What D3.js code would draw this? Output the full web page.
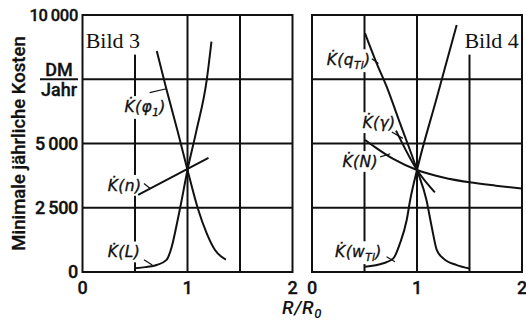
<!DOCTYPE html>
<html><head><meta charset="utf-8">
<script src="https://cdn.jsdelivr.net/npm/d3@7"></script>
<style>body{margin:0;background:#fff}svg{display:block}</style>
</head><body>
<svg id="c" width="526" height="321"></svg>
<script>
// ---------- data ----------
const xTickValues = [0, 1, 2];
const xGridValues = [0.5, 1, 1.5];
const yGridValues = [2500, 5000, 7500];
const yTickValues = [0, 2500, 5000, 10000];
const yTickLabels = ["0", "2\u2009500", "5\u2009000", "10\u2009000"];
const yUnitValue = 7500;
const yUnitTop = "DM", yUnitBottom = "Jahr";
const yTitle = "Minimale jährliche Kosten";
const panelTitles = ["Bild 3", "Bild 4"];

// Bild 3
const kPhi_x = [0.707, 0.80, 0.903, 1.0, 1.10, 1.183, 1.262, 1.365];
const kPhi_y = [8600, 7100, 5525, 3970, 2450, 1505, 856, 480];
const kL_x = [0.5, 0.6, 0.707, 0.80, 0.85, 0.90, 0.935, 1.0, 1.085, 1.183, 1.228];
const kL_y = [150, 190, 272, 470, 985, 1900, 2600, 3970, 5500, 7470, 8960];
const kn_x = [0.53, 1.20];
const kn_y = [3000, 4440];

// Bild 4
const kq_x = [0.505, 0.616, 0.711, 0.838, 1.0, 1.09, 1.14, 1.188, 1.25, 1.378, 1.5];
const kq_y = [9290, 8120, 7210, 5790, 3970, 2800, 1760, 860, 530, 270, 140];
const kg_x = [0.80, 1.0, 1.17];
const kg_y = [5500, 3970, 3100];
const kN_x = [0.505, 0.60, 0.774, 1.0, 1.25, 1.5, 1.75, 1.997];
const kN_y = [5140, 4860, 4400, 3970, 3680, 3490, 3360, 3250];
const kw_x = [0.505, 0.68, 0.775, 0.838, 0.902, 0.935, 1.0, 1.187, 1.378];
const kw_y = [207, 340, 530, 1117, 2023, 2800, 3970, 6760, 9610];

// curve labels: [main, subscript, after]
const labels3 = [
  {parts:["K\u0307(φ","1",")"], x:0.40, y:6230, lx:[0.80,0.64], ly:[7130,6980]},
  {parts:["K\u0307(n)","",""],  x:0.24, y:3160, lx:[0.585,0.645], ly:[3440,3250]},
  {parts:["K\u0307(L)","",""],  x:0.24, y:570,  lx:[0.585,0.665], ly:[480,270]}
];
const labels4 = [
  {parts:["K\u0307(q","Ti",")"], x:0.14, y:8050, lx:[0.57,0.633], ly:[8300,8110]},
  {parts:["K\u0307(γ)","",""],  x:0.48, y:5600, lx:[0.76,0.865], ly:[5450,5200]},
  {parts:["K\u0307(N)","",""],  x:0.29, y:4090, lx:[0.65,0.745], ly:[4480,4600]},
  {parts:["K\u0307(w","Ti",")"], x:0.22, y:580,  lx:[0.71,0.79], ly:[590,400]}
];

// ---------- layout ----------
const svg = d3.select("#c");
const yS = d3.scaleLinear().domain([0, 10000]).range([272, 15]);
const panels = [
  {x0: 82.5, x1: 292.5, title: panelTitles[0], titleX: 0.03, titleAnchor: "start",
   series: [[kPhi_x,kPhi_y,d3.curveMonotoneX],[kL_x,kL_y,d3.curveMonotoneX],[kn_x,kn_y,d3.curveLinear]], labels: labels3},
  {x0: 312, x1: 522, title: panelTitles[1], titleX: 1.97, titleAnchor: "end",
   series: [[kq_x,kq_y,d3.curveMonotoneX],[kg_x,kg_y,d3.curveMonotoneX],[kN_x,kN_y,d3.curveMonotoneX],[kw_x,kw_y,d3.curveMonotoneX]], labels: labels4}
];
const lw = 2;
const tickFont = "Roboto, 'Liberation Sans', sans-serif";

panels.forEach((p, pi) => {
  const xS = d3.scaleLinear().domain([0, 2]).range([p.x0, p.x1]);
  const g = svg.append("g");
  const gGrid = g.append("g"), gBox = g.append("g"), gFrame = g.append("g"),
        gCurve = g.append("g"), gText = g.append("g");

  gGrid.selectAll(".vx").data(xGridValues).join("line")
    .attr("x1", d => xS(d)).attr("x2", d => xS(d))
    .attr("y1", yS(10000)).attr("y2", yS(0))
    .attr("stroke", "#111").attr("stroke-width", lw);
  gGrid.selectAll(".hy").data(yGridValues).join("line")
    .attr("x1", xS(0)).attr("x2", xS(2))
    .attr("y1", d => yS(d)).attr("y2", d => yS(d))
    .attr("stroke", "#111").attr("stroke-width", lw);

  gFrame.append("rect").attr("x", xS(0)).attr("y", yS(10000))
    .attr("width", xS(2) - xS(0)).attr("height", yS(0) - yS(10000))
    .attr("fill", "none").attr("stroke", "#111").attr("stroke-width", lw);

  p.series.forEach(([xs, ys, cv]) => {
    const pts = xs.map((x, i) => [x, ys[i]]);
    gCurve.append("path")
      .attr("d", d3.line().x(d => xS(d[0])).y(d => yS(d[1])).curve(cv)(pts))
      .attr("fill", "none").attr("stroke", "#111").attr("stroke-width", 2)
      .attr("stroke-linejoin", "round");
  });

  const tt = gText.append("text").attr("x", xS(p.titleX)).attr("y", yS(8730))
    .attr("text-anchor", p.titleAnchor)
    .attr("font-family", "'Liberation Serif', 'Times New Roman', serif")
    .attr("font-size", 22).attr("fill", "#111").text(p.title);
  const tb = tt.node().getBBox();
  gBox.append("rect").attr("x", tb.x - 2).attr("y", yS(10000)).attr("width", tb.width + 4)
    .attr("height", tb.y + tb.height + 2 - yS(10000)).attr("fill", "#fff");

  p.labels.forEach(l => {
    const t = gText.append("text").attr("x", xS(l.x)).attr("y", yS(l.y))
      .attr("font-family", "'DejaVu Sans', sans-serif").attr("font-style", "italic")
      .attr("font-size", 15.5).attr("letter-spacing", 0.4)
      .attr("stroke", "#111").attr("stroke-width", 0.35).attr("fill", "#111");
    t.append("tspan").text(l.parts[0]);
    if (l.parts[1]) {
      t.append("tspan").attr("font-size", 10.5).attr("dy", 4).text(l.parts[1]);
      t.append("tspan").attr("dy", -4).text(l.parts[2]);
    }
    const b = t.node().getBBox();
    gBox.append("rect").attr("x", b.x - 1).attr("y", b.y - 1)
      .attr("width", b.width + 2).attr("height", b.height + 2).attr("fill", "#fff");
    gCurve.append("line")
      .attr("x1", xS(l.lx[0])).attr("y1", yS(l.ly[0]))
      .attr("x2", xS(l.lx[1])).attr("y2", yS(l.ly[1]))
      .attr("stroke", "#111").attr("stroke-width", 1.2);
  });

  g.selectAll(".xt").data(xTickValues).join("text")
    .attr("x", d => xS(d)).attr("y", 294).attr("text-anchor", "middle")
    .attr("font-family", tickFont).attr("font-weight", 500)
    .attr("stroke", "#111").attr("stroke-width", 0.3)
    .attr("font-size", 18).attr("fill", "#111").text(d => d);

  if (pi === 0) {
    svg.selectAll(".yt").data(yTickValues).join("text")
      .attr("x", 78).attr("y", d => yS(d)).attr("dy", "0.36em").attr("text-anchor", "end")
      .attr("font-family", tickFont).attr("font-weight", 500)
      .attr("stroke", "#111").attr("stroke-width", 0.35)
      .attr("font-size", (d, i) => yTickLabels[i].length > 5 ? 16.5 : 18)
      .attr("letter-spacing", -0.3)
      .attr("fill", "#111").text((d, i) => yTickLabels[i]);
    const uy = yS(yUnitValue);
    svg.append("line").attr("x1", 40).attr("x2", 78).attr("y1", uy).attr("y2", uy)
      .attr("stroke", "#111").attr("stroke-width", 1.8);
    svg.append("text").attr("x", 59).attr("y", uy - 3).attr("text-anchor", "middle")
      .attr("font-family", tickFont).attr("font-weight", 500).attr("font-size", 18)
      .attr("stroke", "#111").attr("stroke-width", 0.3)
      .attr("fill", "#111").text(yUnitTop);
    svg.append("text").attr("x", 59).attr("y", uy + 17).attr("text-anchor", "middle")
      .attr("font-family", tickFont).attr("font-weight", 500).attr("font-size", 18)
      .attr("stroke", "#111").attr("stroke-width", 0.3)
      .attr("fill", "#111").text(yUnitBottom);
    svg.append("text").attr("transform", `translate(25,${yS(5000)}) rotate(-90)`)
      .attr("text-anchor", "middle")
      .attr("font-family", tickFont).attr("font-weight", 500).attr("font-size", 18.5)
      .attr("stroke", "#111").attr("stroke-width", 0.3)
      .attr("fill", "#111").text(yTitle);
  }
});

const xt = svg.append("text").attr("x", 302).attr("y", 314).attr("text-anchor", "middle")
  .attr("font-family", tickFont).attr("font-style", "italic").attr("font-weight", 500)
  .attr("font-size", 19).attr("letter-spacing", 0.6).attr("fill", "#111");
xt.append("tspan").text("R/R");
xt.append("tspan").attr("font-size", 13).attr("dy", 4).text("0");
</script>
</body></html>
